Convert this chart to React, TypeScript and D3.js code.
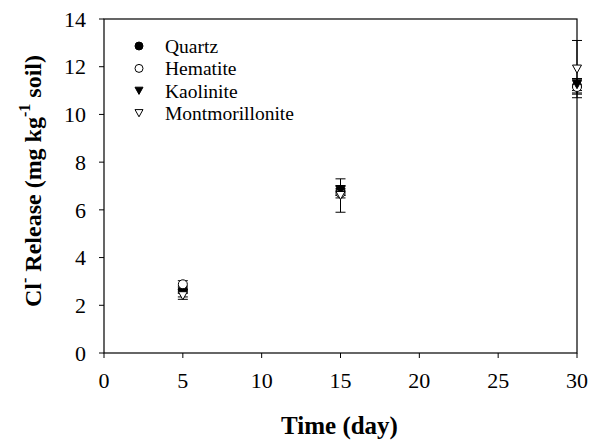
import React from "react";
import * as d3 from "d3";

const days = [5, 15, 30];
const quartz = [2.65, 6.8, 11.2];
const quartzErr = [0.15, 0.2, 0.3];
const hematite = [2.88, 6.7, 11.15];
const hematiteErr = [0.15, 0.2, 0.3];
const kaolinite = [2.5, 6.82, 11.25];
const kaoliniteErr = [0.15, 0.2, 0.25];
const montmorillonite = [2.4, 6.6, 11.9];
const montmorilloniteErr = [0.15, 0.7, 1.2];
const xTicks = [0, 5, 10, 15, 20, 25, 30];
const yTicks = [0, 2, 4, 6, 8, 10, 12, 14];

const series = [
  { name: "Quartz", values: quartz, errs: quartzErr, shape: "circle", filled: true },
  { name: "Hematite", values: hematite, errs: hematiteErr, shape: "circle", filled: false },
  { name: "Kaolinite", values: kaolinite, errs: kaoliniteErr, shape: "triangle", filled: true },
  { name: "Montmorillonite", values: montmorillonite, errs: montmorilloniteErr, shape: "triangle", filled: false },
];

const font = "Liberation Serif, DejaVu Serif, serif";

const Marker = ({ shape, filled, x, y, size = 9 }) => {
  const fill = filled ? "black" : "white";
  if (shape === "circle") {
    return <circle cx={x} cy={y} r={size / 2} fill={fill} stroke="black" strokeWidth={1} />;
  }
  // downward triangle
  const h = size * 0.9;
  const d = `M${x - size / 2},${y - h / 2}L${x + size / 2},${y - h / 2}L${x},${y + h / 2}Z`;
  return <path d={d} fill={fill} stroke="black" strokeWidth={1} />;
};

const App = () => {
  const width = 597;
  const height = 440;
  const left = 104;
  const right = 577;
  const top = 19;
  const bottom = 353;

  const xScale = d3.scaleLinear().domain([0, 30]).range([left, right]);
  const yScale = d3.scaleLinear().domain([0, 14]).range([bottom, top]);

  return (
    <svg width={width} height={height} style={{ position: "absolute", left: 0, top: 0, background: "white", fontFamily: font }}>
      {/* frame */}
      <rect x={left} y={top} width={right - left} height={bottom - top} fill="none" stroke="black" strokeWidth={1.2} />

      {/* x ticks */}
      {xTicks.map((t) => (
        <g key={t} transform={`translate(${xScale(t)},${bottom})`}>
          <line y2="5" stroke="black" />
          <text y="35" textAnchor="middle" fontSize="22" style={{ fontFamily: font }}>{t}</text>
        </g>
      ))}

      {/* y ticks */}
      {yTicks.map((t) => (
        <g key={t} transform={`translate(${left},${yScale(t)})`}>
          <line x2="-5" stroke="black" />
          <text x="-18" dy="0.35em" textAnchor="end" fontSize="22" style={{ fontFamily: font }}>{t}</text>
        </g>
      ))}

      {/* axis titles */}
      <text x={(left + right) / 2 - 1} y={434} textAnchor="middle" fontSize="25" fontWeight="bold" style={{ fontFamily: font }}>Time (day)</text>
      <text transform={`translate(41,${(top + bottom) / 2 - 5}) rotate(-90)`} textAnchor="middle" fontSize="24" fontWeight="bold" style={{ fontFamily: font }}>
        Cl<tspan dy="-11" fontSize="16">-</tspan>
        <tspan dy="11"> Release (mg kg</tspan>
        <tspan dy="-11" fontSize="16">-1</tspan>
        <tspan dy="11"> soil)</tspan>
      </text>

      {/* error bars */}
      {series.map((s) => (
        <g key={s.name}>
          {days.map((d, i) => {
            const cx = xScale(d);
            const y1 = yScale(s.values[i] + s.errs[i]);
            const y2 = yScale(s.values[i] - s.errs[i]);
            return (
              <g key={d}>
                <line x1={cx} x2={cx} y1={y1} y2={y2} stroke="black" />
                <line x1={cx - 5} x2={cx + 5} y1={y1} y2={y1} stroke="black" />
                <line x1={cx - 5} x2={cx + 5} y1={y2} y2={y2} stroke="black" />
              </g>
            );
          })}
        </g>
      ))}
      {/* markers */}
      {series.map((s) => (
        <g key={s.name + "m"}>
          {days.map((d, i) => (
            <Marker key={d} shape={s.shape} filled={s.filled} x={xScale(d)} y={yScale(s.values[i])} />
          ))}
        </g>
      ))}

      {/* legend */}
      {series.map((s, i) => (
        <g key={s.name + "l"} transform={`translate(139,${46 + i * 22.4})`}>
          <Marker shape={s.shape} filled={s.filled} x={0} y={0} size={8} />
          <text x={26} dy="0.35em" fontSize="19.5" style={{ fontFamily: font }}>{s.name}</text>
        </g>
      ))}
    </svg>
  );
};

export default App;
